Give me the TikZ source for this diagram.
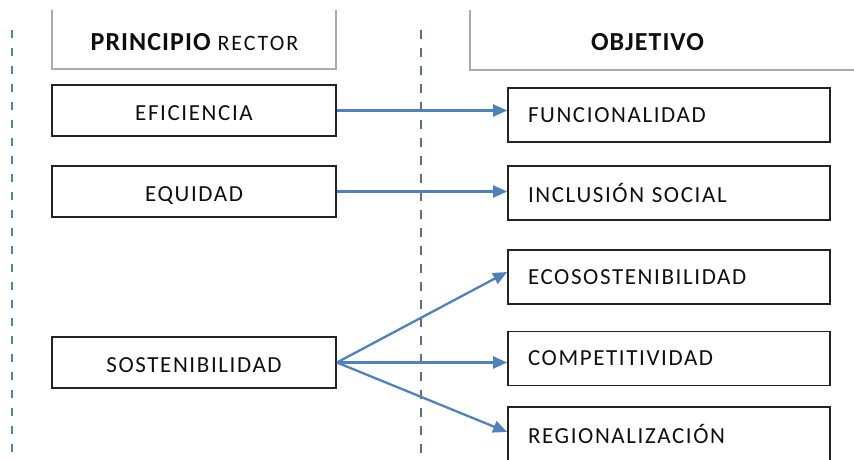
\documentclass[tikz,border=0pt]{standalone}
\usepackage{fontspec}
\setmainfont{Carlito}
\newfontfamily\lsfont[LetterSpace=7]{Carlito}
\newfontfamily\hdfont[LetterSpace=4]{Carlito}
\newfontfamily\rcfont[LetterSpace=9]{Carlito}
\usetikzlibrary{arrows.meta,calc}
\definecolor{arrblue}{RGB}{79,129,189}
\definecolor{leftdash}{RGB}{75,128,200}
\definecolor{midline}{RGB}{95,108,130}
\definecolor{boxline}{RGB}{35,35,35}
\definecolor{headline}{RGB}{170,170,170}
\definecolor{txt}{RGB}{15,15,15}
\tikzset{
  lbox/.style={draw=boxline, line width=1.8pt, minimum width=284pt, minimum height=51pt,
    inner sep=0pt, text height=20pt, text depth=0pt, text=txt, font=\lsfont\fontsize{23}{26}\selectfont},
  rbox/.style={draw=boxline, line width=1.8pt, minimum height=54pt, text width=282pt,
    inner xsep=20pt, inner ysep=0pt, align=left, text=txt, font=\lsfont\fontsize{23}{26}\selectfont},
  hbox/.style={draw=headline, line width=1.5pt, inner sep=0pt},
  htext/.style={text=txt, inner sep=0pt, font=\hdfont\fontsize{26}{29}\selectfont},
  arr/.style={draw=arrblue, line width=2.3pt, -{Triangle[length=14pt,width=12pt]}},
  guideL/.style={draw=leftdash, line width=2pt, dash pattern=on 8pt off 10pt},
  guideM/.style={draw=midline, line width=2.5pt, dash pattern=on 9pt off 9pt}
}
\begin{document}
\begin{tikzpicture}[x=1pt,y=-1pt]
\useasboundingbox (0,0) rectangle (854,459);
\clip (0,0) rectangle (854,459);
% dashed guides
\coordinate (lt) at (12,30);
\coordinate (lb) at (12,470);
\coordinate (mt) at (421,30);
\coordinate (mb) at (421,470);
\draw[guideL] (lt) -- (lb);
\draw[guideM] (mt) -- (mb);
% header boxes
\begin{scope}
\clip (0,10) rectangle (854,459);
\node[hbox, minimum width=284pt, minimum height=80pt] (hdr1) at (194,29) {};
\node[hbox, minimum width=420pt, minimum height=80pt] (hdr2) at (680,30) {};
\end{scope}
\node[htext] (hdr1t) at (194.5,42) {{\bfseries PRINCIPIO} {\rcfont\fontsize{22}{24}\selectfont RECTOR}};
\node[htext] (hdr2t) at (647.5,42) {\bfseries OBJETIVO};
% left boxes
\node[lbox] (efi) at (194,110.5) {EFICIENCIA};
\node[lbox] (equ) at (194,191.5) {EQUIDAD};
\node[lbox] (sos) at (194,362.5) {SOSTENIBILIDAD};
% right boxes
\node[rbox] (fun) at (669,115) {FUNCIONALIDAD};
\node[rbox] (inc) at (669,193) {INCLUSIÓN SOCIAL};
\node[rbox] (eco) at (669,277) {ECOSOSTENIBILIDAD};
\node[rbox] (com) at (669,358.5) {COMPETITIVIDAD};
\node[rbox] (reg) at (669,434) {REGIONALIZACIÓN};
% connectors
\draw[arr] (efi.east) -- (efi.east -| fun.west);
\draw[arr] (equ.east) -- (equ.east -| inc.west);
\draw[arr] (sos.east) -- ($(eco.west)+(0,-5)$);
\draw[arr] (sos.east) -- (sos.east -| com.west);
\draw[arr] (sos.east) -- ($(reg.west)+(0,-2)$);
\end{tikzpicture}
\end{document}
